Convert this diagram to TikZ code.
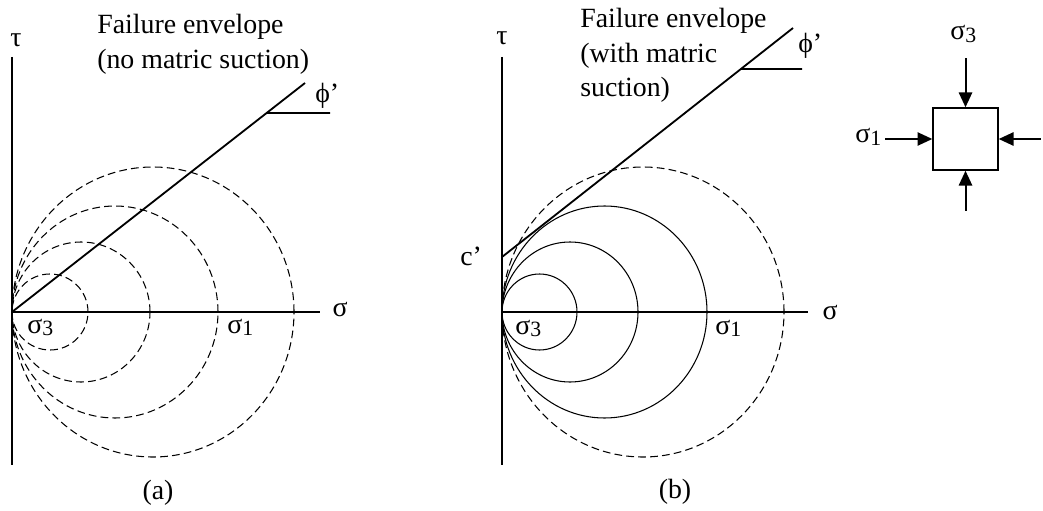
\documentclass[tikz,border=0pt]{standalone}
\usepackage{fontspec}
\setmainfont{Liberation Serif}
\usetikzlibrary{arrows.meta, positioning, calc}
\newcommand{\lowidx}[1]{\raisebox{-2pt}{\fontsize{15.5}{16}\selectfont #1}}
\tikzset{
  axis/.style={line width=1.4pt},
  envline/.style={line width=1.3pt},
  mohr/.style={line width=0.75pt},
  mohrdash/.style={line width=0.75pt, dash pattern=on 5.5pt off 3pt},
  lbl/.style={font=\fontsize{19.8}{24.5}\selectfont, inner sep=0pt},
  push/.style={-{Triangle[length=3.7mm, width=3.3mm]}, line width=1.4pt},
}

\begin{document}
\begin{tikzpicture}
  \useasboundingbox (0,0) rectangle (26.075,12.75);

  % (a) no matric suction
  \coordinate (oa) at (0.3,4.95);
  \coordinate (ta) at (0.3,11.325);
  \coordinate (ba) at (0.3,1.125);
  \coordinate (sa) at (8.0,4.95);
  \draw[axis] (ta) -- (ba);
  \draw[axis] (oa) -- (sa);
  \foreach \rx/\ry in {0.95/0.95, 1.725/1.75, 2.575/2.65, 3.525/3.625}{
    \draw[mohrdash] ($(oa)+(\rx,0)$) ellipse [x radius=\rx, y radius=\ry];
  }
  \coordinate (ea) at (7.625,10.675);
  \draw[envline] (oa) -- (ea);
  \coordinate (pa) at ($(oa)!0.869!(ea)$);
  \coordinate (qa) at (8.25,9.925);
  \draw[envline] (pa) -- (qa);
  \node[lbl] (taua) at (0.4,11.75) {τ};
  \node[lbl] (siga) at (8.5,5.0) {σ};
  \node[lbl, anchor=base west] (s3a) at (0.675,4.425) {σ\lowidx{3}};
  \node[lbl, anchor=base west] (s1a) at (5.675,4.425) {σ\lowidx{1}};
  \node[lbl, anchor=base west] (phia) at (7.875,10.175) {ϕ’};
  \node[lbl, anchor=north west, align=left] (fea) at (2.425,12.4)
    {Failure envelope\\(no matric suction)};
  \node[lbl] (capa) at (3.95,0.425) {(a)};

  % (b) with matric suction
  \coordinate (ob) at (12.55,4.95);
  \coordinate (tb) at (12.55,11.325);
  \coordinate (bb) at (12.55,1.125);
  \coordinate (sb) at (20.2,4.95);
  \draw[axis] (tb) -- (bb);
  \draw[axis] (ob) -- (sb);
  \foreach \rx/\ry in {0.9375/0.95, 1.7/1.75, 2.5625/2.65}{
    \draw[mohr] ($(ob)+(\rx,0)$) ellipse [x radius=\rx, y radius=\ry];
  }
  \draw[mohrdash] ($(ob)+(3.525,0)$) ellipse [x radius=3.525, y radius=3.625];
  \coordinate (cb) at (12.55,6.325);
  \coordinate (eb) at (19.825,12.05);
  \draw[envline] (cb) -- (eb);
  \coordinate (pb) at ($(cb)!0.821!(eb)$);
  \coordinate (qb) at (20.05,11.025);
  \draw[envline] (pb) -- (qb);
  \node[lbl] (taub) at (12.55,11.8) {τ};
  \node[lbl] (sigb) at (20.75,4.925) {σ};
  \node[lbl, anchor=base west] (s3b) at (12.875,4.4) {σ\lowidx{3}};
  \node[lbl, anchor=base west] (s1b) at (17.875,4.4) {σ\lowidx{1}};
  \node[lbl, anchor=base west] (cpb) at (11.5,6.125) {c’};
  \node[lbl, anchor=base west] (phib) at (19.95,11.425) {ϕ’};
  \node[lbl, anchor=north west, align=left] (feb) at (14.5,12.55)
    {Failure envelope\\(with matric\\suction)};
  \node[lbl] (capb) at (16.875,0.45) {(b)};

  % element with principal stresses
  \node[draw, line width=1pt, minimum width=1.625cm, minimum height=1.55cm,
        inner sep=0pt] (blk) at (24.1375,9.275) {};
  \coordinate[above=1.225cm of blk.north] (ntop);
  \coordinate[below=1.0cm of blk.south] (nbot);
  \coordinate[left=1.175cm of blk.west] (nleft);
  \coordinate[right=1.05cm of blk.east] (nright);
  \draw[push] (ntop) -- (blk.north);
  \draw[push] (nbot) -- (blk.south);
  \draw[push] (nleft) -- (blk.west);
  \draw[push] (nright) -- (blk.east);
  \node[lbl, anchor=base west] (s3e) at (23.75,11.75) {σ\lowidx{3}};
  \node[lbl, anchor=base west] (s1e) at (21.375,9.175) {σ\lowidx{1}};
\end{tikzpicture}
\end{document}
